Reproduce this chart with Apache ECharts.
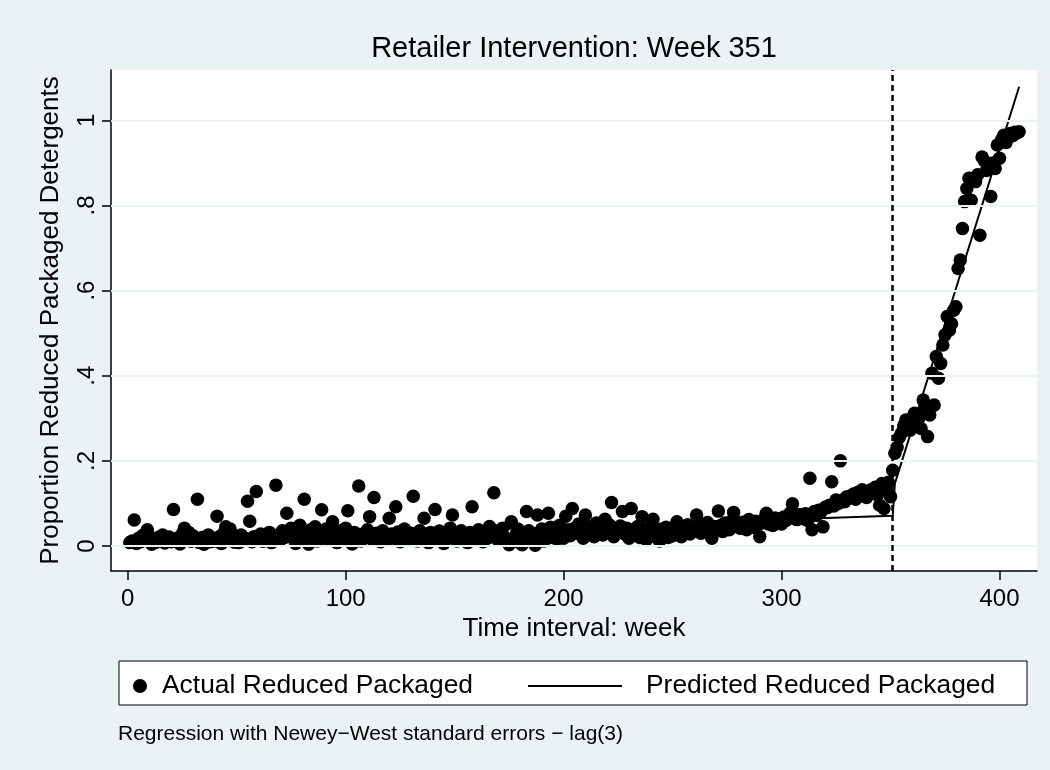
<!DOCTYPE html>
<html><head><meta charset="utf-8">
<script src="https://cdn.jsdelivr.net/npm/echarts@6/dist/echarts.min.js"></script>
<style>html,body{margin:0;padding:0;background:#EAF2F3}#c{width:1050px;height:770px}</style>
</head><body><div id="c"></div>
<script>
const titleText = 'Retailer Intervention: Week 351';
const xAxisTitle = 'Time interval: week';
const yAxisTitle = 'Proportion Reduced Packaged Detergents';
const noteText = 'Regression with Newey\u2212West standard errors \u2212 lag(3)';
const seriesNames = ['Actual Reduced Packaged', 'Predicted Reduced Packaged'];
const xTicks = [0, 100, 200, 300, 400];
const yTicks = [0, 0.2, 0.4, 0.6, 0.8, 1];
const yTickLabels = ['0', '.2', '.4', '.6', '.8', '1'];
const interventionWeek = 351;
const firstWeek = 1;
// weekly observed proportions, weeks 1..409
const actual = [
0.008,0.012,0.061,0.006,0.018,0.010,0.025,0.014,0.038,0.022,
0.004,0.016,0.009,0.020,0.012,0.026,0.007,0.015,0.021,0.010,
0.086,0.014,0.019,0.005,0.028,0.042,0.018,0.032,0.011,0.024,
0.016,0.110,0.008,0.020,0.004,0.014,0.026,0.010,0.018,0.012,
0.070,0.022,0.006,0.030,0.045,0.015,0.040,0.024,0.009,0.019,
0.008,0.026,0.013,0.018,0.105,0.058,0.010,0.022,0.128,0.016,
0.028,0.011,0.024,0.018,0.032,0.008,0.017,0.143,0.026,0.014,
0.036,0.020,0.077,0.028,0.042,0.022,0.006,0.032,0.049,0.015,
0.110,0.026,0.004,0.038,0.018,0.045,0.012,0.030,0.085,0.020,
0.040,0.014,0.032,0.057,0.022,0.008,0.035,0.026,0.016,0.042,
0.083,0.024,0.005,0.032,0.018,0.141,0.012,0.028,0.020,0.038,
0.069,0.016,0.114,0.030,0.022,0.010,0.036,0.025,0.015,0.065,
0.028,0.018,0.092,0.033,0.010,0.026,0.040,0.020,0.014,0.030,
0.117,0.022,0.012,0.036,0.018,0.065,0.028,0.008,0.032,0.020,
0.086,0.015,0.035,0.024,0.006,0.030,0.018,0.042,0.073,0.020,
0.012,0.028,0.036,0.016,0.025,0.008,0.032,0.092,0.020,0.014,
0.038,0.026,0.010,0.030,0.018,0.046,0.022,0.125,0.035,0.014,
0.028,0.042,0.020,0.010,0.003,0.057,0.016,0.026,0.040,0.008,
0.003,0.022,0.081,0.036,0.015,0.028,0.002,0.073,0.024,0.040,
0.012,0.030,0.077,0.044,0.020,0.035,0.016,0.048,0.028,0.018,
0.070,0.038,0.024,0.088,0.042,0.030,0.052,0.034,0.018,0.073,
0.046,0.028,0.040,0.022,0.054,0.032,0.044,0.026,0.063,0.036,
0.050,0.102,0.022,0.040,0.032,0.047,0.081,0.028,0.042,0.018,
0.088,0.036,0.030,0.046,0.020,0.069,0.034,0.015,0.042,0.028,
0.063,0.022,0.038,0.012,0.034,0.026,0.044,0.020,0.036,0.024,
0.032,0.057,0.040,0.022,0.046,0.034,0.050,0.028,0.044,0.036,
0.073,0.044,0.030,0.050,0.038,0.055,0.034,0.018,0.046,0.040,
0.082,0.048,0.034,0.054,0.044,0.038,0.058,0.079,0.046,0.052,
0.042,0.056,0.048,0.038,0.062,0.052,0.044,0.058,0.050,0.022,
0.054,0.064,0.077,0.052,0.060,0.048,0.066,0.056,0.062,0.052,
0.068,0.060,0.064,0.078,0.099,0.066,0.062,0.074,0.070,0.064,
0.076,0.060,0.159,0.038,0.081,0.072,0.084,0.080,0.045,0.091,
0.090,0.096,0.151,0.094,0.108,0.100,0.200,0.108,0.104,0.116,
0.112,0.118,0.122,0.110,0.126,0.118,0.132,0.122,0.114,0.128,
0.132,0.124,0.138,0.120,0.096,0.147,0.088,0.136,0.150,0.116,
0.178,
0.218,0.232,0.255,0.265,0.282,0.296,0.290,0.272,0.302,
0.312,0.288,0.300,0.276,0.343,0.322,0.257,0.308,0.406,0.331,
0.445,0.394,0.429,0.472,0.496,0.539,0.507,0.522,0.554,0.562,
0.652,0.672,0.746,0.809,0.840,0.864,0.812,0.860,0.856,0.872,
0.730,0.914,0.905,0.882,0.891,0.821,0.900,0.887,0.942,0.911,
0.955,0.965,0.948,0.960,0.969,0.964,0.972,0.970,0.973
];
const predictedWeeks = [1, 351, 352, 409];
const predictedValues = [0.010, 0.071, 0.147, 1.079];

const FONT = '"Liberation Sans", Arial, Helvetica, sans-serif';
const chart = echarts.init(document.getElementById('c'), null, {renderer: 'canvas'});
const option = {
  backgroundColor: '#EAF2F3',
  animation: false,
  textStyle: {fontFamily: FONT, color: '#000'},
  title: [
    {text: titleText, left: 574, top: 34, textAlign: 'center', padding: 0,
     textStyle: {fontSize: 29, fontWeight: 'normal', color: '#000', fontFamily: FONT}},
    {text: noteText, left: 118, top: 724, padding: 0,
     textStyle: {fontSize: 21, fontWeight: 'normal', color: '#000', fontFamily: FONT}}
  ],
  grid: {left: 111, right: 13, top: 70, bottom: 199, show: true, backgroundColor: '#fff', borderWidth: 0},
  xAxis: {
    type: 'value', min: -7.66, max: 417.2,
    name: xAxisTitle, nameLocation: 'middle', nameGap: 43,
    nameTextStyle: {fontSize: 26, color: '#000', fontFamily: FONT},
    axisLine: {show: true, onZero: false, lineStyle: {color: '#000', width: 1.5}},
    axisTick: {show: true, length: 9, customValues: xTicks, lineStyle: {color: '#000', width: 1.5}},
    axisLabel: {customValues: xTicks, fontSize: 24, color: '#000', margin: 16, fontFamily: FONT},
    splitLine: {show: false}
  },
  yAxis: {
    type: 'value', min: -0.0587, max: 1.1182,
    name: yAxisTitle, nameLocation: 'middle', nameGap: 47, nameRotate: 90,
    nameTextStyle: {fontSize: 26, color: '#000', fontFamily: FONT},
    axisLine: {show: true, onZero: false, lineStyle: {color: '#000', width: 1.5}},
    axisTick: {show: true, length: 9, customValues: yTicks, lineStyle: {color: '#000', width: 1.5}},
    axisLabel: {customValues: yTicks, rotate: 90, fontSize: 24, color: '#000', margin: 12, fontFamily: FONT,
      formatter: function (v) { const i = yTicks.findIndex(t => Math.abs(t - v) < 1e-9); return i >= 0 ? yTickLabels[i] : ''; }},
    splitLine: {show: false}
  },
  legend: [
    {data: [{name: seriesNames[0], icon: 'circle'}], left: 133, top: 673, padding: 0, itemWidth: 14, itemHeight: 14,
     selectedMode: false, z: 10, textStyle: {fontSize: 26.4, color: '#000', fontFamily: FONT, padding: [0, 0, 0, 10]}},
    {data: [{name: seriesNames[1], icon: 'path://M0,0H100V2H0Z'}], left: 528, top: 673, padding: 0, itemWidth: 94, itemHeight: 2,
     selectedMode: false, z: 10, textStyle: {fontSize: 26.4, color: '#000', fontFamily: FONT, padding: [0, 0, 0, 19]}}
  ],
  graphic: [
    {type: 'rect', z: 1, shape: {x: 119, y: 661, width: 908, height: 44},
     style: {fill: '#fff', stroke: '#000', lineWidth: 1}}
  ],
  series: [
    {name: 'gridlines', type: 'line', data: [], silent: true, z: 1,
     markLine: {silent: true, symbol: 'none', animation: false, label: {show: false},
       lineStyle: {color: '#EAF2F3', width: 2, type: 'solid'},
       data: yTicks.map(v => ({yAxis: v}))}},
    {name: seriesNames[0], type: 'scatter', z: 3,
     data: actual.map((v, i) => [firstWeek + i, v]),
     symbol: 'circle', symbolSize: 13.5, itemStyle: {color: '#000', opacity: 1}},
    {name: seriesNames[1], type: 'line', z: 4,
     data: predictedWeeks.map((w, i) => [w, predictedValues[i]]),
     symbol: 'none', showSymbol: false, lineStyle: {color: '#000', width: 2}, itemStyle: {color: '#000'},
     markLine: {silent: true, symbol: 'none', animation: false, label: {show: false},
       lineStyle: {color: '#000', width: 2.5, type: [6, 4]},
       data: [{xAxis: interventionWeek}]}}
  ]
};
chart.setOption(option);
</script>
</body></html>
